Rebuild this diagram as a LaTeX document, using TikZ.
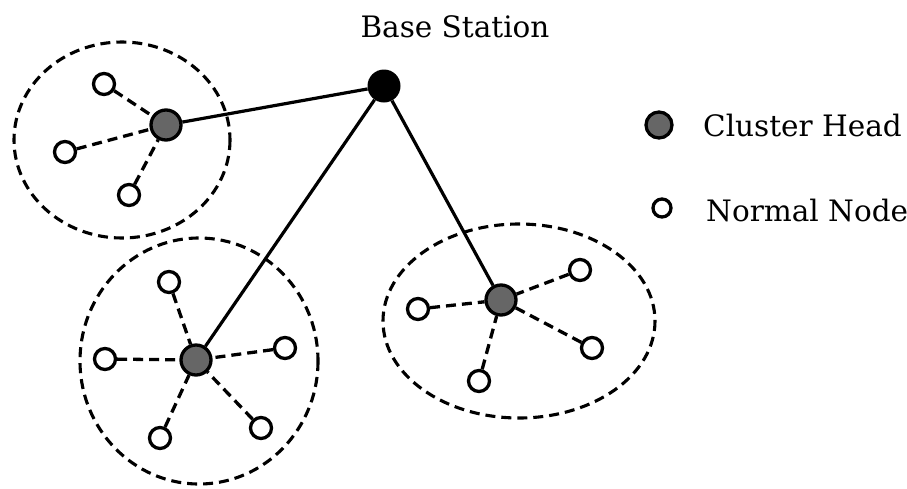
\documentclass[tikz,border=0pt]{standalone}
\usepackage{fontspec}
\setmainfont{DejaVu Serif}
\begin{document}
\begin{tikzpicture}[x=1pt,y=-1pt,
  chead/.style={circle,draw=black,line width=3.3pt,fill=black!60,minimum size=30pt,inner sep=0pt},
  nnode/.style={circle,draw=black,line width=3.3pt,fill=white,minimum size=21pt,inner sep=0pt},
  bstation/.style={circle,fill=black,minimum size=33pt,inner sep=0pt},
  uplink/.style={line width=3.2pt},
  member/.style={line width=3.3pt,dash pattern=on 10pt off 6pt},
  region/.style={line width=3.1pt,dash pattern=on 10pt off 6pt},
  lbl/.style={font=\fontsize{29.5}{35}\selectfont,inner sep=0pt}]
\useasboundingbox (0,0) rectangle (907,488);

% cluster boundaries
\draw[region] (122,140) ellipse [x radius=108, y radius=98];
\draw[region] (199,361) ellipse [x radius=119, y radius=123];
\draw[region] (519,321) ellipse [x radius=136, y radius=97];

% base station
\node[bstation] (bs) at (384,86) {};
\node[lbl] (bslbl) at (455,27) {Base Station};

% cluster heads
\node[chead] (ch1) at (166,125) {};
\node[chead] (ch2) at (196,360) {};
\node[chead] (ch3) at (501,300) {};

% normal nodes
\node[nnode] (a1) at (104,84) {};
\node[nnode] (a2) at (65,152) {};
\node[nnode] (a3) at (129,195) {};

\node[nnode] (b1) at (169,282) {};
\node[nnode] (b2) at (105,359) {};
\node[nnode] (b3) at (285,348) {};
\node[nnode] (b4) at (261,428) {};
\node[nnode] (b5) at (160,438) {};

\node[nnode] (c1) at (418,309) {};
\node[nnode] (c2) at (580,270) {};
\node[nnode] (c3) at (592,348) {};
\node[nnode] (c4) at (479,381) {};

% links to the base station
\draw[uplink] (ch1) -- (bs);
\draw[uplink] (ch2) -- (bs);
\draw[uplink] (ch3) -- (bs);

% member links
\foreach \n in {a1,a2,a3} \draw[member] (\n) -- (ch1);
\foreach \n in {b1,b2,b3,b4,b5} \draw[member] (\n) -- (ch2);
\foreach \n in {c1,c2,c3,c4} \draw[member] (\n) -- (ch3);

% legend
\node[chead,minimum size=26pt] (lgch) at (659,125) {};
\node[nnode,minimum size=18pt] (lgnn) at (662,208) {};
\node[lbl,anchor=west] (lgchtxt) at (703,125) {Cluster Head};
\node[lbl,anchor=west] (lgnntxt) at (706,210) {Normal Node};
\end{tikzpicture}
\end{document}
